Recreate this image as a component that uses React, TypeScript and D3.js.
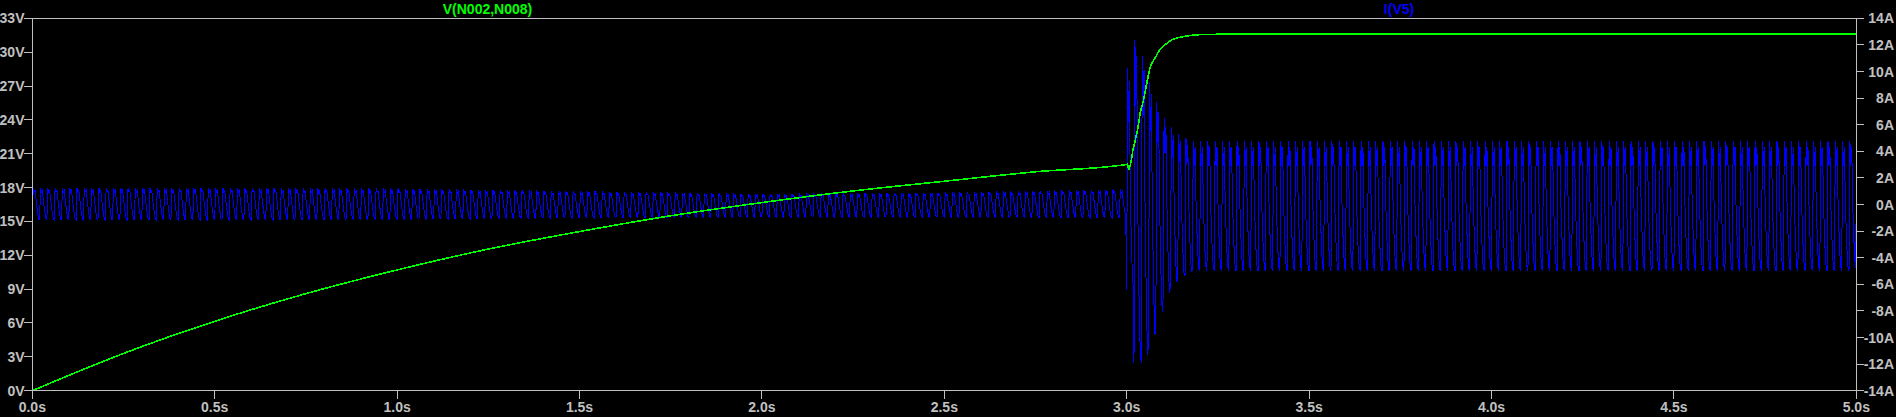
import React, { useEffect } from 'react';
import * as d3 from 'd3';

// ---- axis ticks ----
const X_TICKS = [0, 0.5, 1.0, 1.5, 2.0, 2.5, 3.0, 3.5, 4.0, 4.5, 5.0];
const V_TICKS = [0, 3, 6, 9, 12, 15, 18, 21, 24, 27, 30, 33];
const A_TICKS = [-14, -12, -10, -8, -6, -4, -2, 0, 2, 4, 6, 8, 10, 12, 14];

// ---- V(N002,N008) (time s, volts) ----
const GREEN_T = [0, 0.25, 0.5, 0.75, 1.0, 1.25, 1.5, 1.75, 2.0, 2.25, 2.5, 2.75, 3.0, 3.0017, 3.0055, 3.012, 3.017, 3.025, 3.032, 3.037, 3.045, 3.055, 3.064, 3.078, 3.091, 3.105, 3.124, 3.16, 3.2, 3.3, 3.5, 4.0, 4.5, 5.0];
const GREEN_V = [0, 3.3, 6.15, 8.6, 10.7, 12.55, 14.1, 15.5, 16.67, 17.7, 18.56, 19.4, 20.05, 20.1, 19.6, 20.3, 21.3, 22.4, 23.55, 24.6, 25.6, 27.25, 28.6, 29.5, 30.2, 30.65, 31.1, 31.4, 31.55, 31.6, 31.62, 31.62, 31.6, 31.6];

// ---- I(V5): 50 Hz ripple; one cycle shape plus read envelopes ----
const CYCLE = 0.02;
const CYCLES = 250;
const TRANSIENT_START_CYCLE = 150; // t = 3.0 s
const PRE_SHAPE = [-1, 1, 0.75, 0.85, 0.35, -0.15, -0.6, -0.95];
const PRE_ENV_T = [0, 0.5, 1.0, 1.5, 2.0, 2.5, 3.0];
const PRE_ENV_TOP = [1.25, 1.25, 1.2, 1.0, 0.8, 0.9, 1.15];
const PRE_ENV_BOT = [-1.15, -1.15, -1.1, -1.0, -0.95, -0.95, -1.0];
const POST_SHAPE = [-1, 1, 0.6, 0.9, 0.05, -0.4, -0.75, -0.95];
const TRANS_TOP = [10.3, 12.4, 11.2, 9.2, 7.7, 6.5, 5.8, 5.3, 5.0];
const TRANS_BOT = [-6.4, -11.9, -11.9, -10.3, -8.5, -7.0, -6.1, -5.6, -5.3];
const STEADY_TOP = 4.8;
const STEADY_BOT = -5.0;

const W = 1896;
const H = 417;
const L = 32.3;
const R = 1856.3;
const T = 18.3;
const B = 390.7;
const AXIS = '#c0c0c0';
const FONT = '"Liberation Sans", Arial, sans-serif';

function buildBlue(): [number, number][] {
  const envTop = d3.scaleLinear(PRE_ENV_T, PRE_ENV_TOP).clamp(true);
  const envBot = d3.scaleLinear(PRE_ENV_T, PRE_ENV_BOT).clamp(true);
  const pts: [number, number][] = [];
  for (let k = 0; k < CYCLES; k++) {
    const t0 = k * CYCLE;
    let shape: number[];
    let top: number;
    let bot: number;
    if (k < TRANSIENT_START_CYCLE) {
      shape = PRE_SHAPE;
      top = envTop(t0);
      bot = envBot(t0);
    } else {
      shape = POST_SHAPE;
      const i = k - TRANSIENT_START_CYCLE;
      top = i < TRANS_TOP.length ? TRANS_TOP[i] : STEADY_TOP;
      bot = i < TRANS_BOT.length ? TRANS_BOT[i] : STEADY_BOT;
    }
    shape.forEach((s, j) => {
      const t = t0 + (CYCLE * j) / shape.length;
      pts.push([t, s >= 0 ? s * top : -s * bot]);
    });
  }
  pts.push([5.0, 0]);
  return pts;
}

export default function App() {
  useEffect(() => {
    document.body.style.margin = '0';
    document.body.style.background = '#000';
  }, []);

  const x = d3.scaleLinear([0, 5], [L, R]);
  const yV = d3.scaleLinear([0, 33], [B, T]);
  const yA = d3.scaleLinear([-14, 14], [B, T]);

  const greenData = GREEN_T.map((t, i) => [t, GREEN_V[i]] as [number, number]);
  const greenPath = d3
    .line<[number, number]>()
    .x((d) => x(d[0]))
    .y((d) => yV(d[1]))
    .curve(d3.curveMonotoneX)(greenData) || '';

  const bluePath = d3
    .line<[number, number]>()
    .x((d) => x(d[0]))
    .y((d) => yA(d[1]))(buildBlue()) || '';

  return (
    <svg width={W} height={H} style={{ position: 'absolute', left: 0, top: 0, display: 'block', background: '#000' }}>
      <rect x={0} y={0} width={W} height={H} fill="#000" />
      <defs>
        <clipPath id="plot">
          <rect x={L} y={T} width={R - L} height={B - T} />
        </clipPath>
      </defs>
      {/* traces */}
      <g clipPath="url(#plot)">
        <path d={bluePath} fill="none" stroke="#0000ff" strokeWidth={1} shapeRendering="crispEdges" />
        <path d={greenPath} fill="none" stroke="#00ff00" strokeWidth={1.6} shapeRendering="crispEdges" />
      </g>
      {/* frame */}
      <rect x={L} y={T} width={R - L} height={B - T} fill="none" stroke={AXIS} strokeWidth={1} shapeRendering="crispEdges" />
      {/* left axis */}
      {V_TICKS.map((v) => (
        <g key={'v' + v}>
          <line x1={L - 8} x2={L} y1={yV(v)} y2={yV(v)} stroke={AXIS} shapeRendering="crispEdges" />
          <text x={24.5} y={yV(v) + 5} textAnchor="end" fill={AXIS} fontFamily={FONT} fontSize={14} fontWeight="bold">
            {v + 'V'}
          </text>
        </g>
      ))}
      {/* right axis */}
      {A_TICKS.map((a) => (
        <g key={'a' + a}>
          <line x1={R} x2={R + 8} y1={yA(a)} y2={yA(a)} stroke={AXIS} shapeRendering="crispEdges" />
          <text x={1894} y={yA(a) + 5} textAnchor="end" fill={AXIS} fontFamily={FONT} fontSize={14} fontWeight="bold">
            {a + 'A'}
          </text>
        </g>
      ))}
      {/* bottom axis */}
      {X_TICKS.map((t) => (
        <g key={'t' + t}>
          <line x1={x(t)} x2={x(t)} y1={B} y2={B + 8} stroke={AXIS} shapeRendering="crispEdges" />
          <text x={x(t)} y={412} textAnchor="middle" fill={AXIS} fontFamily={FONT} fontSize={14} fontWeight="bold">
            {t.toFixed(1) + 's'}
          </text>
        </g>
      ))}
      {/* trace titles */}
      <text x={487.5} y={14} textAnchor="middle" fill="#00ff00" fontFamily={FONT} fontSize={14} fontWeight="bold">
        V(N002,N008)
      </text>
      <text x={1399} y={14} textAnchor="middle" fill="#0000ff" fontFamily={FONT} fontSize={14} fontWeight="bold">
        I(V5)
      </text>
    </svg>
  );
}
